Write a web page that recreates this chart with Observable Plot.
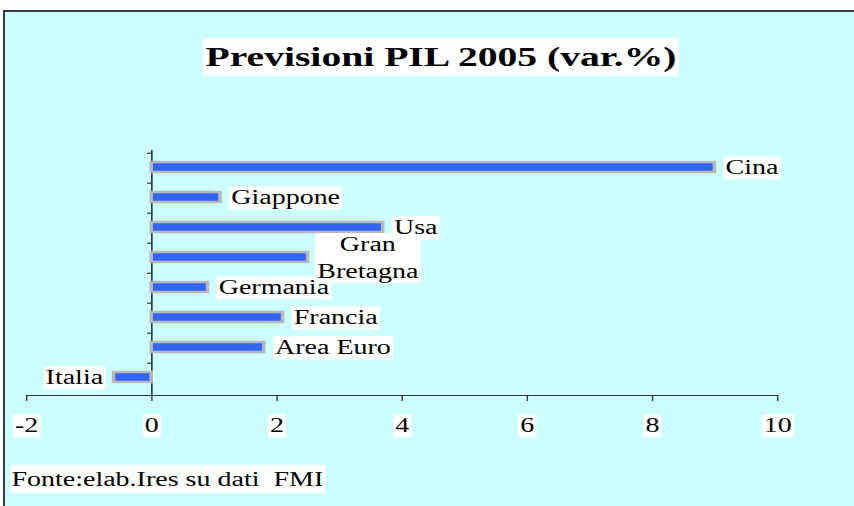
<!DOCTYPE html>
<html>
<head>
<meta charset="utf-8">
<script src="https://cdn.jsdelivr.net/npm/d3@7"></script>
<script src="https://cdn.jsdelivr.net/npm/@observablehq/plot@0.6"></script>
<style>
  html, body { margin: 0; padding: 0; background: #ffffff; }
  body { width: 854px; height: 506px; position: relative; overflow: hidden;
         font-family: "Liberation Serif", "Times New Roman", serif; color: #000; }
  #panel { position: absolute; left: 3px; top: 10px; width: 851px; height: 496px;
           background: #CCFFFF; border-top: 2px solid #3a3a3a; border-left: 2px solid #3a3a3a;
           box-sizing: border-box; }
  #title { position: absolute; left: 441px; top: 38px; transform: translateX(-50%) scaleX(1.4);
           background: #fff; font-weight: bold; font-size: 28.3px; line-height: 38px;
           padding: 0 2px; white-space: nowrap; }
  #caption { position: absolute; left: 10px; top: 465px; transform-origin: 0 0; transform: scaleX(1.4);
             background: #fff; font-size: 20px; line-height: 28px; padding: 0 1px; white-space: pre; }
  #chart { position: absolute; left: 0; top: 100px; }
</style>
</head>
<body>
<div id="panel"></div>
<div id="title"></div>
<div id="chart"></div>
<div id="caption"></div>
<script>
const categories = ["Cina", "Giappone", "Usa", "Gran Bretagna", "Germania", "Francia", "Area Euro", "Italia"];
const values = [9.0, 1.1, 3.7, 2.5, 0.9, 2.1, 1.8, -0.6];
const labels = ["Cina", "Giappone", "Usa", "Gran\nBretagna", "Germania", "Francia", "Area Euro", "Italia"];
const xTicks = [-2, 0, 2, 4, 6, 8, 10];
const xTickLabels = ["-2", "0", "2", "4", "6", "8", "10"];
const titleText = "Previsioni PIL 2005 (var.%)";
const captionText = "Fonte:elab.Ires su dati  FMI";

document.getElementById("title").textContent = titleText;
document.getElementById("caption").textContent = captionText;

const data = categories.map((c, i) => ({country: c, value: values[i], label: labels[i]}));

const SX = 1.4;           // horizontal stretch of the original picture
const W = 854, H = 340;
const mTop = 50, mBottom = 45;
const step = (H - mTop - mBottom) / categories.length;
const font = '"Liberation Serif", "Times New Roman", serif';

const chart = Plot.plot({
  width: W / SX,
  height: H,
  marginLeft: 26 / SX,
  marginRight: (W - 777) / SX,
  marginTop: mTop,
  marginBottom: mBottom,
  style: {background: "transparent", fontFamily: font, fontSize: "20px", color: "#000", overflow: "visible"},
  x: {domain: [-2, 10]},
  y: {domain: categories, paddingInner: 0.67, paddingOuter: 0.335, axis: null},
  marks: [
    Plot.frame({anchor: "bottom", stroke: "#333"}),
    Plot.ruleX([0], {stroke: "#111"}),
    Plot.ruleY(categories, {y: d => d, x1: -0.065, x2: 0, dy: -step / 2, stroke: "#111"}),
    Plot.barX(data, {x: "value", y: "country", fill: "#3366FF", stroke: "#B8B8B8", strokeWidth: 2.5, dy: -1}),
    Plot.text(data.filter(d => d.value >= 0 && !d.label.includes("\n")),
      {x: "value", y: "country", text: "label", textAnchor: "start", dx: 7.5, dy: -1, fontSize: 20, fill: "#000"}),
    Plot.text(data.filter(d => d.label.includes("\n")),
      {x: "value", y: "country", text: "label", textAnchor: "middle", dx: 42.5, dy: -3, lineHeight: 1.35, fontSize: 20, fill: "#000"}),
    Plot.text(data.filter(d => d.value < 0),
      {x: "value", y: "country", text: "label", textAnchor: "end", dx: -8, dy: -1, fontSize: 20, fill: "#000"}),
    Plot.axisX({ticks: xTicks, tickFormat: d => xTickLabels[xTicks.indexOf(d)], tickSize: 6, tickPadding: 16,
      fontSize: 20, stroke: "#333", fill: "#000", label: null})
  ]
});

chart.setAttribute("preserveAspectRatio", "none");
chart.setAttribute("width", W);
chart.setAttribute("height", H);
chart.style.width = W + "px";
chart.style.height = H + "px";
chart.style.maxWidth = "none";
document.getElementById("chart").appendChild(chart);

// white boxes behind all labels (drawn beneath every label), as in the original
const NS = "http://www.w3.org/2000/svg";
const textGroups = chart.querySelectorAll('g[aria-label="text"], g[aria-label="x-axis tick label"]');
const boxes = document.createElementNS(NS, "g");
const inv = chart.getScreenCTM().inverse();
textGroups.forEach(g => g.querySelectorAll("text").forEach(t => {
  const b = t.getBBox();
  const m = inv.multiply(t.getScreenCTM());
  const r = document.createElementNS(NS, "rect");
  r.setAttribute("x", b.x - 1.5);
  r.setAttribute("y", b.y + 0.5);
  r.setAttribute("width", b.width + 3);
  r.setAttribute("height", b.height + 1);
  r.setAttribute("fill", "#fff");
  r.setAttribute("transform", `matrix(${m.a},${m.b},${m.c},${m.d},${m.e},${m.f})`);
  boxes.appendChild(r);
}));
chart.insertBefore(boxes, textGroups[0]);
</script>
</body>
</html>
